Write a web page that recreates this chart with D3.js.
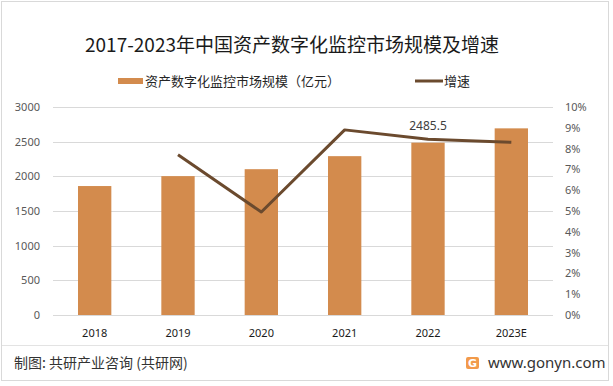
<!DOCTYPE html>
<html>
<head>
<meta charset="utf-8">
<script src="https://cdn.jsdelivr.net/npm/d3@7"></script>
<style>
  body { margin: 0; background: #fff; }
  text { font-family: "Noto Sans CJK SC", "Noto Sans", sans-serif; }
</style>
</head>
<body>
<div id="chart"></div>
<script>
const years = ["2018", "2019", "2020", "2021", "2022", "2023E"]
const scale = [1860, 2003, 2103, 2291, 2485.5, 2692]
const growth = [null, 7.7, 4.95, 8.9, 8.45, 8.3]
const leftTicks = [0, 500, 1000, 1500, 2000, 2500, 3000]
const rightTicks = [0, 1, 2, 3, 4, 5, 6, 7, 8, 9, 10]

const W = 613, H = 386
const MARGIN = { LEFT: 53, RIGHT: 60, TOP: 107, BOTTOM: 71 }
const WIDTH = W - MARGIN.LEFT - MARGIN.RIGHT
const HEIGHT = H - MARGIN.TOP - MARGIN.BOTTOM

const BAR = "#D38B4D"
const LINE = "#6B4A2E"

const svg = d3.select("#chart").append("svg")
    .attr("width", W)
    .attr("height", H)

// outer frame + footer separator
svg.append("rect")
    .attr("x", 1.5).attr("y", 1.5)
    .attr("width", 607).attr("height", 379)
    .attr("fill", "none")
    .attr("stroke", "#d9d9d9")
svg.append("line")
    .attr("x1", 2).attr("x2", 608)
    .attr("y1", 345.5).attr("y2", 345.5)
    .attr("stroke", "#e3e3e3")

// title
svg.append("text")
    .attr("x", 292).attr("y", 52)
    .attr("text-anchor", "middle")
    .attr("font-size", "19px")
    .attr("fill", "#1a1a1a")
    .text("2017-2023年中国资产数字化监控市场规模及增速")

// legend
svg.append("rect")
    .attr("x", 118).attr("y", 78)
    .attr("width", 25).attr("height", 6)
    .attr("fill", BAR)
svg.append("text")
    .attr("x", 145).attr("y", 86)
    .attr("font-size", "13px")
    .attr("fill", "#262626")
    .text("资产数字化监控市场规模（亿元）")
svg.append("line")
    .attr("x1", 415).attr("x2", 443)
    .attr("y1", 81).attr("y2", 81)
    .attr("stroke", LINE)
    .attr("stroke-width", 3)
svg.append("text")
    .attr("x", 444).attr("y", 86)
    .attr("font-size", "13px")
    .attr("fill", "#262626")
    .text("增速")

const g = svg.append("g")
    .attr("transform", `translate(${MARGIN.LEFT}, ${MARGIN.TOP})`)

// Scales
const x = d3.scaleBand()
    .domain(years)
    .range([0, WIDTH])
    .paddingInner(0.6)
    .paddingOuter(0.3)

const y = d3.scaleLinear()
    .domain([0, 3000])
    .range([HEIGHT, 0])

const y2 = d3.scaleLinear()
    .domain([0, 10])
    .range([HEIGHT, 0])

// gridlines
g.selectAll(".grid")
    .data(leftTicks)
    .enter().append("line")
    .attr("x1", 0).attr("x2", WIDTH)
    .attr("y1", d => Math.round(y(d)) + 0.5)
    .attr("y2", d => Math.round(y(d)) + 0.5)
    .attr("stroke", "#d9d9d9")

// Left axis
const yAxisCall = d3.axisLeft(y).tickValues(leftTicks).tickSize(0).tickPadding(13)
    .tickFormat(d3.format("d"))
const yAxis = g.append("g").call(yAxisCall)
yAxis.select(".domain").remove()
yAxis.selectAll("text")
    .attr("font-size", "11px")
    .attr("fill", "#595959")
    .style("font-family", "'Noto Sans', sans-serif")

// Right axis
const y2AxisCall = d3.axisRight(y2).tickValues(rightTicks).tickSize(0).tickPadding(12)
    .tickFormat(d => d + "%")
const y2Axis = g.append("g")
    .attr("transform", `translate(${WIDTH}, 0)`)
    .call(y2AxisCall)
y2Axis.select(".domain").remove()
y2Axis.selectAll("text")
    .attr("font-size", "11px")
    .attr("fill", "#595959")
    .style("font-family", "'Noto Sans', sans-serif")

// X axis
const xAxisCall = d3.axisBottom(x).tickSize(0).tickPadding(14)
const xAxis = g.append("g")
    .attr("transform", `translate(0, ${HEIGHT})`)
    .call(xAxisCall)
xAxis.select(".domain").remove()
xAxis.selectAll("text")
    .attr("font-size", "11px")
    .attr("fill", "#1a1a1a")
    .style("font-family", "'Noto Sans', sans-serif")

// bars
g.selectAll(".bar")
    .data(years)
    .enter().append("rect")
    .attr("x", d => x(d))
    .attr("width", x.bandwidth())
    .attr("y", (d, i) => y(scale[i]))
    .attr("height", (d, i) => HEIGHT - y(scale[i]))
    .attr("fill", BAR)

// growth line
const pts = years.map((d, i) => ({ year: d, v: growth[i] })).filter(d => d.v != null)
const line = d3.line()
    .x(d => x(d.year) + x.bandwidth() / 2)
    .y(d => y2(d.v))
g.append("path")
    .datum(pts)
    .attr("d", line)
    .attr("fill", "none")
    .attr("stroke", LINE)
    .attr("stroke-width", 3)
    .attr("stroke-linejoin", "round")

// data label for 2022
g.append("text")
    .attr("x", x("2022") + x.bandwidth() / 2)
    .attr("y", y2(growth[4]) - 9)
    .attr("text-anchor", "middle")
    .attr("font-size", "12px")
    .attr("fill", "#404040")
    .style("font-family", "'Noto Sans', sans-serif")
    .text(scale[4])

// footer
svg.append("text")
    .attr("x", 14).attr("y", 368)
    .attr("font-size", "14px")
    .attr("fill", "#333")
    .text("制图: 共研产业咨询 (共研网)")

const logo = svg.append("g").attr("transform", "translate(466, 357)")
logo.append("rect")
    .attr("width", 13).attr("height", 12).attr("rx", 2)
    .attr("fill", "#F29A4A")
logo.append("text")
    .attr("x", 6.5).attr("y", 10)
    .attr("text-anchor", "middle")
    .attr("font-size", "11px")
    .attr("font-weight", "bold")
    .attr("fill", "#fff")
    .style("font-family", "'DejaVu Sans', sans-serif")
    .text("G")
svg.append("text")
    .attr("x", 488).attr("y", 368)
    .attr("font-size", "15px")
    .attr("fill", "#333")
    .style("font-family", "'Noto Sans', sans-serif")
    .text("www.gonyn.com")
</script>
</body>
</html>
